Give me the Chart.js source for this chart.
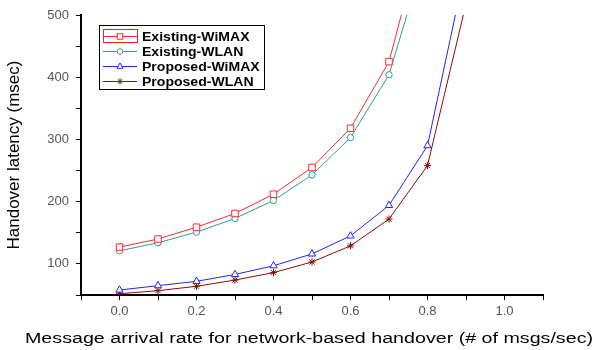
<!DOCTYPE html>
<html>
<head>
<meta charset="utf-8">
<script src="https://cdn.jsdelivr.net/npm/chart.js@4/dist/chart.umd.min.js"></script>
<style>
  html, body { margin: 0; padding: 0; background: #fff; }
  #wrap { width: 600px; height: 350px; position: relative; }
</style>
</head>
<body>
<div id="wrap"><canvas id="c" width="600" height="350"></canvas></div>
<script>
// ---- data ----
const xValues = [0.0, 0.1, 0.2, 0.3, 0.4, 0.5, 0.6, 0.7, 0.8, 0.9];
const existingWiMAX = [127, 140, 159, 181, 212, 255, 318, 425, 660, null];
const existingWLAN  = [121, 134, 151, 173, 202, 243, 303, 404, 610, null];
const proposedWiMAX = [58, 65, 72, 83, 97, 116, 145, 194, 290, 580];
const proposedWLAN  = [52, 57, 64, 74, 86, 103, 129, 172, 258, 518];
const seriesLabels = ['Existing-WiMAX', 'Existing-WLAN', 'Proposed-WiMAX', 'Proposed-WLAN'];
const yTickLabels = [100, 200, 300, 400, 500];
const xTickLabels = [0.0, 0.2, 0.4, 0.6, 0.8, 1.0];
const xTitle = 'Message arrival rate for network-based handover (# of msgs/sec)';
const yTitle = 'Handover latency (msec)';

function pts(arr) { return xValues.map((x, i) => ({ x: x, y: arr[i] })); }

const styles = [
  { color: '#ff2a2a', point: 'rect', r: 4.6 },
  { color: '#2f9a9a', point: 'circle', r: 3.2 },
  { color: '#2222ff', point: 'triangle', r: 4.2 },
  { color: '#8b0a0a', point: 'star', r: 3.6 }
];
const seriesData = [existingWiMAX, existingWLAN, proposedWiMAX, proposedWLAN];

const datasets = seriesData.map((arr, i) => ({
  label: seriesLabels[i],
  data: pts(arr),
  borderColor: styles[i].color,
  backgroundColor: '#ffffff',
  pointBorderColor: styles[i].color,
  pointBackgroundColor: '#ffffff',
  pointStyle: styles[i].point,
  pointRadius: styles[i].r,
  pointBorderWidth: 1,
  borderWidth: 1,
  tension: 0,
  spanGaps: false
}));

const FONT = 'Arial, "Liberation Sans", sans-serif';

const legendPlugin = {
  id: 'boxLegend',
  afterDraw(chart) {
    const ctx = chart.ctx;
    const x0 = 99, y0 = 25, w = 165, h = 64;
    ctx.save();
    ctx.fillStyle = '#fff';
    ctx.fillRect(x0, y0, w, h);
    ctx.strokeStyle = '#000';
    ctx.lineWidth = 1;
    ctx.strokeRect(x0 + 0.5, y0 + 0.5, w, h);
    const rowY = [36, 51, 66, 81];
    chart.data.datasets.forEach((ds, i) => {
      const y = rowY[i];
      ctx.strokeStyle = ds.borderColor;
      ctx.lineWidth = 1;
      ctx.beginPath();
      ctx.moveTo(103, y + 0.5);
      ctx.lineTo(137, y + 0.5);
      ctx.stroke();
      ctx.fillStyle = '#fff';
      ctx.strokeStyle = ds.borderColor;
      Chart.helpers.drawPoint(ctx, {
        pointStyle: ds.pointStyle,
        radius: ds.pointRadius * 0.85,
        rotation: 0,
        borderWidth: 1
      }, 120, y + 0.5);
      ctx.fillStyle = '#000';
      ctx.font = 'bold 13px ' + FONT;
      ctx.textBaseline = 'middle';
      ctx.textAlign = 'left';
      const tw = ctx.measureText(ds.label).width;
      ctx.save();
      ctx.translate(142, y + 1);
      ctx.scale(1.08, 1);
      ctx.fillText(ds.label, 0, 0);
      ctx.restore();
    });
    // selection frame around first entry
    ctx.strokeStyle = '#ff2020';
    ctx.lineWidth = 1;
    ctx.strokeRect(103.5, 29.5, 34, 13);
    ctx.restore();
  }
};

const xTitlePlugin = {
  id: 'xTitle',
  afterDraw(chart) {
    const ctx = chart.ctx;
    ctx.save();
    ctx.font = '15.5px ' + FONT;
    ctx.fillStyle = '#000';
    ctx.textAlign = 'center';
    ctx.textBaseline = 'alphabetic';
    const w = ctx.measureText(xTitle).width;
    const sx = 568 / w;
    ctx.translate(309, 343);
    ctx.scale(sx, 1);
    ctx.fillText(xTitle, 0, 0);
    ctx.restore();
  }
};

new Chart(document.getElementById('c'), {
  type: 'line',
  data: { datasets: datasets },
  options: {
    responsive: false,
    animation: false,
    devicePixelRatio: 1,
    layout: { padding: { top: 15, right: 57, bottom: 0, left: 0 } },
    plugins: { legend: { display: false }, tooltip: { enabled: false } },
    scales: {
      x: {
        type: 'linear',
        min: -0.1,
        max: 1.1,
        afterFit(s) { s.height = 55; },
        border: { display: true, color: '#000', width: 2 },
        grid: { display: true, drawOnChartArea: false, drawTicks: true, tickLength: 5, color: '#000', lineWidth: 1 },
        ticks: {
          stepSize: 0.1,
          autoSkip: false,
          maxRotation: 0,
          padding: 4,
          color: '#555',
          font: { family: FONT, size: 13 },
          callback(v) {
            const r = Math.round(v * 10);
            const hit = xTickLabels.find(t => Math.round(t * 10) === r);
            return hit !== undefined ? hit.toFixed(1) : '';
          }
        },
        title: { display: false, text: xTitle }
      },
      y: {
        type: 'linear',
        min: 50,
        max: 500,
        afterFit(s) { s.width = 81; },
        border: { display: true, color: '#000', width: 2 },
        grid: { display: true, drawOnChartArea: false, drawTicks: true, tickLength: 5, color: '#000', lineWidth: 1 },
        ticks: {
          stepSize: 50,
          autoSkip: false,
          padding: 7,
          color: '#555',
          font: { family: FONT, size: 13 },
          callback(v) { return yTickLabels.includes(v) ? String(v) : ''; }
        },
        title: {
          display: true,
          text: yTitle,
          color: '#000',
          font: { family: FONT, size: 17 },
          padding: { top: 4, bottom: 0 }
        }
      }
    }
  },
  plugins: [legendPlugin, xTitlePlugin]
});
</script>
</body>
</html>
